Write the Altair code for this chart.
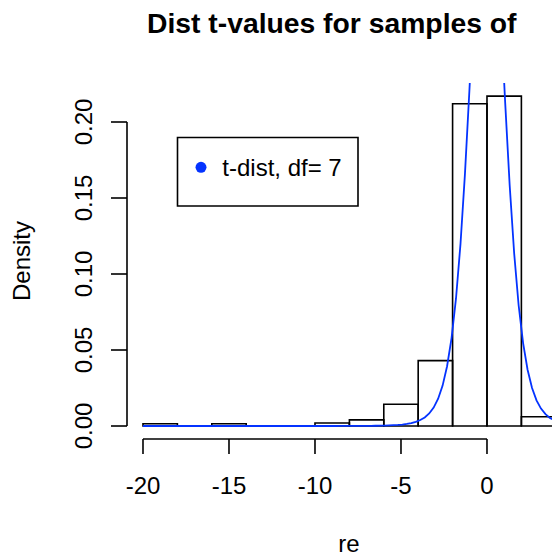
import altair as alt
import pandas as pd
import numpy as np
from math import gamma, pi, sqrt

# ---- text ----
title_text = "Dist t-values for samples of"
x_label = "re"
y_label = "Density"
legend_label = "t-dist, df= 7"
t_df = 7

# ---- histogram (density scale), bins of width 2 ----
bin_starts = [-20, -18, -16, -14, -12, -10, -8, -6, -4, -2, 0, 2]
bin_ends = [-18, -16, -14, -12, -10, -8, -6, -4, -2, 0, 2, 4]
densities = [0.0015, 0.0, 0.0015, 0.0, 0.0, 0.002, 0.004, 0.0143, 0.043, 0.212, 0.217, 0.0061]

# ---- axes ----
x_ticks = [-20, -15, -10, -5, 0]
x_tick_labels = ["-20", "-15", "-10", "-5", "0"]
y_ticks = [0.00, 0.05, 0.10, 0.15, 0.20]
y_tick_labels = ["0.00", "0.05", "0.10", "0.15", "0.20"]

x_domain = [-20.93, 3.78]
y_domain = [-0.00855, 0.22566]

FONT = "Liberation Sans"
BLUE = "#0433ff"
W, H = 425, 356

hist = pd.DataFrame({"x0": bin_starts, "x1": bin_ends, "d": densities, "zero": 0.0})

# theoretical t density with the legend's df, evaluated like R's curve() over the data range
cx = np.linspace(-20, 6, 101)
const = gamma((t_df + 1) / 2) / (sqrt(t_df * pi) * gamma(t_df / 2))
cy = const * (1 + cx ** 2 / t_df) ** (-(t_df + 1) / 2)
curve = pd.DataFrame({"x": cx, "y": cy})

xs = alt.Scale(domain=x_domain, nice=False, zero=False)
ys = alt.Scale(domain=y_domain, nice=False, zero=False)

xt = pd.DataFrame({"v": x_ticks, "lab": x_tick_labels})
yt = pd.DataFrame({"v": y_ticks, "lab": y_tick_labels})
xr = pd.DataFrame({"a": [min(x_ticks)], "b": [max(x_ticks)]})
yr = pd.DataFrame({"a": [min(y_ticks)], "b": [max(y_ticks)]})

bars = alt.Chart(hist).mark_rect(clip=True, fill="white", fillOpacity=0, stroke="black", strokeWidth=1.6).encode(
    x=alt.X("x0:Q", scale=xs, axis=None), x2="x1:Q",
    y=alt.Y("d:Q", scale=ys, axis=None), y2="zero:Q",
)

line = alt.Chart(curve).mark_line(clip=True, color=BLUE, strokeWidth=1.8).encode(
    x=alt.X("x:Q", scale=xs, axis=None),
    y=alt.Y("y:Q", scale=ys, axis=None),
    order="x:Q",
)

# x axis
x_dom = alt.Chart(xr).mark_rule(color="black", strokeWidth=1.6).encode(
    x=alt.X("a:Q", scale=xs, axis=None), x2="b:Q", y=alt.value(H))
x_tk = alt.Chart(xt).mark_rule(color="black", strokeWidth=1.6).encode(
    x=alt.X("v:Q", scale=xs, axis=None), y=alt.value(H), y2=alt.value(H + 15))
x_lb = alt.Chart(xt).mark_text(font=FONT, fontSize=24, baseline="alphabetic", align="center", color="black").encode(
    x=alt.X("v:Q", scale=xs, axis=None), y=alt.value(410.5), text="lab:N")

# y axis
y_dom = alt.Chart(yr).mark_rule(color="black", strokeWidth=1.6).encode(
    y=alt.Y("a:Q", scale=ys, axis=None), y2="b:Q", x=alt.value(0))
y_tk = alt.Chart(yt).mark_rule(color="black", strokeWidth=1.6).encode(
    y=alt.Y("v:Q", scale=ys, axis=None), x=alt.value(0), x2=alt.value(-16))
y_lb = alt.Chart(yt).mark_text(font=FONT, fontSize=24, baseline="alphabetic", align="center", angle=270, color="black").encode(
    y=alt.Y("v:Q", scale=ys, axis=None), x=alt.value(-35), text="lab:N")

# titles
t_title = alt.Chart(pd.DataFrame({"t": [title_text]})).mark_text(
    font=FONT, fontSize=28.3, fontWeight="bold", align="left", baseline="alphabetic", color="black"
).encode(x=alt.value(20), y=alt.value(-50), text="t:N")
t_x = alt.Chart(pd.DataFrame({"t": [x_label]})).mark_text(
    font=FONT, fontSize=24, align="center", baseline="alphabetic", color="black"
).encode(x=alt.value(222), y=alt.value(469), text="t:N")
t_y = alt.Chart(pd.DataFrame({"t": [y_label]})).mark_text(
    font=FONT, fontSize=24, align="center", baseline="alphabetic", angle=270, color="black"
).encode(x=alt.value(-97), y=alt.value(178), text="t:N")

# legend
leg_df = pd.DataFrame({"t": [legend_label]})
leg_box = alt.Chart(leg_df).mark_rect(fill="white", stroke="black", strokeWidth=1.6).encode(
    x=alt.value(50.5), x2=alt.value(231), y=alt.value(54.5), y2=alt.value(123))
leg_dot = alt.Chart(leg_df).mark_point(shape="circle", filled=True, size=120, color=BLUE, opacity=1).encode(
    x=alt.value(74), y=alt.value(84.3))
leg_txt = alt.Chart(leg_df).mark_text(font=FONT, fontSize=24, align="left", baseline="alphabetic", color="black").encode(
    x=alt.value(95.3), y=alt.value(92.8), text="t:N")

chart = alt.layer(
    bars, line, x_dom, x_tk, x_lb, y_dom, y_tk, y_lb, t_title, t_x, t_y, leg_box, leg_dot, leg_txt
).properties(
    width=W, height=H,
    autosize=alt.AutoSizeParams(type="none"),
    padding={"left": 127, "top": 83, "right": 0, "bottom": 117},
    background="white",
).configure_view(strokeWidth=0)

chart.save("out.html", embed_options={"renderer": "svg", "actions": False})
